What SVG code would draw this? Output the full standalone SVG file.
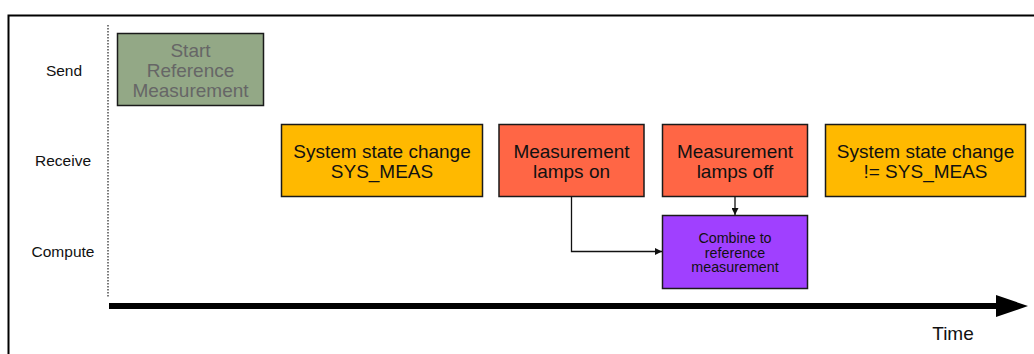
<svg xmlns="http://www.w3.org/2000/svg" width="1034" height="354" viewBox="0 0 1034 354">
<defs>
<style>
.box{stroke:#1a1a1a;stroke-width:1.5}
.t{font-family:"Liberation Sans",Arial,sans-serif;text-anchor:middle}
.big{font-size:19px;fill:#111}
.lane{font-size:15.5px;fill:#111}
.small{font-size:14.3px;fill:#111}
.conn{fill:none;stroke:#111;stroke-width:1.3}
</style>
<marker id="ah" viewBox="0 0 10 10" refX="10" refY="5" markerWidth="7" markerHeight="7" markerUnits="userSpaceOnUse" orient="auto"><path d="M0,0 L10,5 L0,10 z" fill="#111"/></marker>
</defs>
<rect x="0" y="0" width="1034" height="354" fill="#fff"/>
<rect x="8.5" y="15.5" width="1040" height="360" fill="none" stroke="#000" stroke-width="2"/>
<g id="lanes">
<text class="t lane" x="64" y="76">Send</text>
<text class="t lane" x="63" y="166">Receive</text>
<text class="t lane" x="63" y="257">Compute</text>
</g>
<line x1="108" y1="25" x2="108" y2="297" stroke="#333" stroke-width="1.3" stroke-dasharray="1.5,1.5"/>
<g id="timeaxis">
<line x1="109" y1="306" x2="998" y2="306" stroke="#000" stroke-width="6"/>
<path d="M996,295 L1028,306 L996,317 z" fill="#000"/>
<text class="t big" x="953" y="340">Time</text>
</g>
<g id="start">
<rect class="box" x="117.5" y="33.5" width="146" height="72" fill="#93a886"/>
<text class="t big" x="190.5" y="57" style="fill:#666">Start</text>
<text class="t big" x="190.5" y="77" style="fill:#666">Reference</text>
<text class="t big" x="190.5" y="97" style="fill:#666">Measurement</text>
</g>
<g id="sys1">
<rect class="box" x="281.5" y="124.5" width="201" height="72" fill="#ffb900"/>
<text class="t big" x="382" y="158">System state change</text>
<text class="t big" x="382" y="178">SYS_MEAS</text>
</g>
<g id="lampson">
<rect class="box" x="499" y="124.5" width="145" height="72" fill="#ff6645"/>
<text class="t big" x="571.5" y="158">Measurement</text>
<text class="t big" x="571.5" y="178">lamps on</text>
</g>
<g id="lampsoff">
<rect class="box" x="662.5" y="124.5" width="145" height="72" fill="#ff6645"/>
<text class="t big" x="735" y="158">Measurement</text>
<text class="t big" x="735" y="178">lamps off</text>
</g>
<g id="sys2">
<rect class="box" x="825.5" y="124.5" width="200" height="72" fill="#ffb900"/>
<text class="t big" x="925.5" y="158">System state change</text>
<text class="t big" x="925.5" y="178">!= SYS_MEAS</text>
</g>
<g id="combine">
<rect class="box" x="662.5" y="215.5" width="145" height="73" fill="#a040ff"/>
<text class="t small" x="735" y="243">Combine to</text>
<text class="t small" x="735" y="257.5">reference</text>
<text class="t small" x="735" y="272">measurement</text>
</g>
<g id="connectors">
<polyline class="conn" points="571.5,196.5 571.5,251.5 662,251.5" marker-end="url(#ah)"/>
<line class="conn" x1="735" y1="196.5" x2="735" y2="215" marker-end="url(#ah)"/>
</g>
</svg>
